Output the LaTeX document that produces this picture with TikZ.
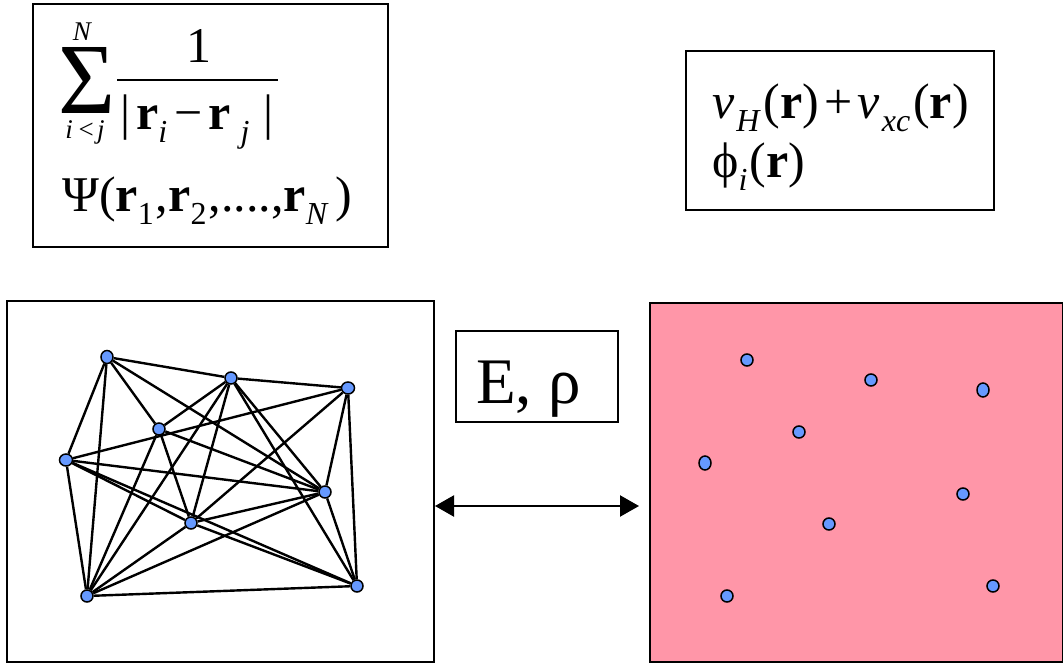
\documentclass[tikz,border=0pt]{standalone}
\usepackage{fontspec}
\setmainfont{Liberation Serif}
\usepackage{graphicx}
\usetikzlibrary{arrows.meta,shapes.geometric}
\definecolor{atomblue}{RGB}{102,153,255}
\definecolor{panelpink}{RGB}{255,150,168}
\newcommand{\dsub}[1]{\raisebox{-13pt}{\fontsize{32}{32}\selectfont #1}}
\tikzset{
  frame/.style={draw, line width=2pt, inner sep=0pt},
  atom/.style={ellipse, draw, line width=1.5pt, fill=atomblue, inner sep=0pt,
    minimum width=12pt, minimum height=12pt},
  tallatom/.style={atom, minimum height=14pt},
  bond/.style={line width=2.4pt},
  txt/.style={inner sep=0pt, anchor=base west, font=\fontsize{50}{54}\selectfont},
  small/.style={inner sep=0pt, font=\fontsize{27}{29}\selectfont\itshape},
  conn/.style={line width=2.2pt, {Triangle[length=19pt,width=21pt]}-{Triangle[length=19pt,width=21pt]}},
}
\begin{document}
\begin{tikzpicture}[x=1pt,y=-1pt]
\useasboundingbox (0,0) rectangle (1063,663);
% top boxes
\node[frame, minimum width=355pt, minimum height=243pt] (box1) at (210.5,125.5) {};
\node[frame, minimum width=308pt, minimum height=159pt] (box2) at (840,130.5) {};
% many-body formula
\node[inner sep=0pt] (sig) at (86.5,80) {\resizebox{57pt}{66pt}{Σ}};
\node[small, anchor=base] (supN) at (82,41) {N};
\node[small, anchor=base] (subij) at (85,139) {i\hspace{4pt}<\hspace{2pt}j};
\node[txt, anchor=base] (one) at (199,63) {1};
\draw[line width=2pt] (117,80) -- (278,80);
\node[txt] (den) at (120,130) {|\hspace{6pt}\textbf{r}\dsub{\textit{i}}\hspace{7pt}−\hspace{6pt}\textbf{r}\hspace{10pt}\dsub{\textit{j}}\hspace{14pt}|};
\node[txt] (psi) at (62,212) {Ψ(\textbf{r}\dsub{1}\hspace{2pt},\textbf{r}\dsub{2}\hspace{2pt},....,\textbf{r}\dsub{\textit{N}}\hspace{7pt})};
% Kohn-Sham formula
\node[txt] (vks) at (712,119) {\textit{v}\hspace{2pt}\dsub{\textit{H}}\hspace{3pt}(\textbf{r})\hspace{5pt}+\hspace{5pt}\textit{v}\hspace{2pt}\dsub{\textit{xc}}\hspace{3pt}(\textbf{r})};
\node[txt] (phi) at (712,178) {ϕ\dsub{\textit{i}}\hspace{2pt}(\textbf{r})};
% panels
\node[frame, minimum width=427pt, minimum height=361pt] (lp) at (220.5,481.5) {};
\node[frame, fill=panelpink, minimum width=413pt, minimum height=359pt] (rp) at (856.5,482.5) {};
% E, rho box
\node[frame, minimum width=162pt, minimum height=91pt] (ebox) at (537,376.5) {};
\node[txt, font=\fontsize{65}{70}\selectfont] (erho) at (476,403) {E, ρ};
% arrow
\coordinate (al) at (435,506);
\coordinate (ar) at (639,506);
\draw[conn] (al) -- (ar);
% interacting electrons
\node[atom, minimum height=13pt] (a1) at (107,357) {};
\node[atom] (a2) at (231,378) {};
\node[atom, minimum width=13pt] (a3) at (348,388) {};
\node[atom] (a4) at (159,429) {};
\node[atom, minimum width=13pt] (a5) at (66,460) {};
\node[atom] (a6) at (325,492) {};
\node[atom] (a7) at (191,523) {};
\node[atom] (a8) at (87,596) {};
\node[atom] (a9) at (357,586) {};
\foreach \u/\v in {a1/a2,a1/a5,a1/a8,a1/a4,a1/a6,
  a2/a3,a2/a4,a2/a8,a2/a7,a2/a6,a2/a9,
  a3/a5,a3/a6,a3/a9,a3/a7,
  a4/a7,a4/a6,a4/a8,
  a5/a6,a5/a7,a5/a9,a5/a8,
  a6/a7,a6/a8,a6/a9,
  a7/a8,a7/a9,
  a8/a9}
  \draw[bond] (\u) -- (\v);
% non-interacting electrons
\node[atom] (b1) at (747,360) {};
\node[atom] (b2) at (871,380) {};
\node[tallatom] (b3) at (983,390) {};
\node[atom] (b4) at (799,432) {};
\node[tallatom] (b5) at (705,463) {};
\node[atom] (b6) at (963,494) {};
\node[atom] (b7) at (829,524) {};
\node[atom] (b8) at (727,596) {};
\node[atom] (b9) at (993,586) {};
\end{tikzpicture}
\end{document}
